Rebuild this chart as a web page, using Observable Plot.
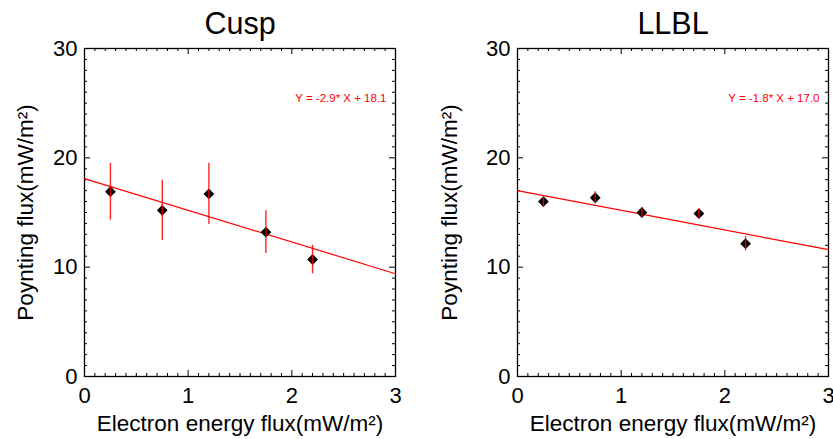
<!DOCTYPE html>
<html><head><meta charset="utf-8">
<script src="https://cdn.jsdelivr.net/npm/d3@7"></script>
<script src="https://cdn.jsdelivr.net/npm/@observablehq/plot@0.6"></script>
<style>
html,body{margin:0;padding:0;background:#fff;}
#wrap{display:flex;width:833px;height:439px;overflow:hidden;}
#wrap svg{display:block;flex:none;}
</style></head><body><div id="wrap"></div>
<script>
const panels = ["Cusp", "LLBL"];
const energy = [0.25, 0.75, 1.2, 1.75, 2.2];
const cuspFlux = [16.9, 15.2, 16.7, 13.2, 10.7];
const cuspErr = [2.6, 2.75, 2.8, 1.95, 1.3];
const llblFlux = [16.0, 16.35, 15.0, 14.9, 12.15];
const llblErr = [0.55, 0.55, 0.45, 0.45, 0.65];
const fitSlope = [-2.9, -1.8];
const fitIntercept = [18.1, 17.0];
const xTicks = [0, 1, 2, 3];
const yTicks = [0, 10, 20, 30];
const xLabel = "Electron energy flux(mW/m\u00B2)";
const yLabel = "Poynting flux(mW/m\u00B2)";

const FONT = "'Liberation Sans', Arial, Helvetica, sans-serif";
const H = 439, MT = 48, MB = 63;
const FH = H - MT - MB;

const diamond = {
  draw(ctx, size) {
    const r = Math.sqrt(size / 2);
    ctx.moveTo(0, -r); ctx.lineTo(r, 0); ctx.lineTo(0, r); ctx.lineTo(-r, 0); ctx.closePath();
  }
};

const xMinor = d3.range(1, 30).map(i => i / 10).filter(v => Math.abs(v - Math.round(v)) > 1e-6);
const xMajor = [1, 2];
const yMinor = d3.range(1, 30).filter(v => v % 10 !== 0);
const yMajor = [10, 20];

function panel(idx, width, ml, mr, ylabelX) {
  const flux = idx === 0 ? cuspFlux : llblFlux;
  const err = idx === 0 ? cuspErr : llblErr;
  const pts = energy.map((e, i) => ({x: e, y: flux[i], lo: flux[i] - err[i], hi: flux[i] + err[i]}));
  const fit = [0, 3].map(x => ({x, y: fitIntercept[idx] + fitSlope[idx] * x}));
  const FW = width - ml - mr;
  const sgn = fitSlope[idx] < 0 ? "-" : "";
  const eq = `Y = ${sgn}${Math.abs(fitSlope[idx]).toFixed(1)}* X + ${fitIntercept[idx].toFixed(1)}`;
  return Plot.plot({
    width, height: H,
    marginTop: MT, marginBottom: MB, marginLeft: ml, marginRight: mr,
    style: {fontFamily: FONT, background: "#fff", color: "#000", overflow: "visible"},
    x: {domain: [0, 3]},
    y: {domain: [0, 30]},
    marks: [
      Plot.tickX(xMinor, {x: d => d, insetTop: FH - 3, stroke: "#000", strokeWidth: 1}),
      Plot.tickX(xMinor, {x: d => d, insetBottom: FH - 3, stroke: "#000", strokeWidth: 1}),
      Plot.tickX(xMajor, {x: d => d, insetTop: FH - 6, stroke: "#000", strokeWidth: 1}),
      Plot.tickX(xMajor, {x: d => d, insetBottom: FH - 6, stroke: "#000", strokeWidth: 1}),
      Plot.tickY(yMinor, {y: d => d, insetRight: FW - 3, stroke: "#000", strokeWidth: 1}),
      Plot.tickY(yMinor, {y: d => d, insetLeft: FW - 3, stroke: "#000", strokeWidth: 1}),
      Plot.tickY(yMajor, {y: d => d, insetRight: FW - 6, stroke: "#000", strokeWidth: 1}),
      Plot.tickY(yMajor, {y: d => d, insetLeft: FW - 6, stroke: "#000", strokeWidth: 1}),
      Plot.frame({stroke: "#000", strokeWidth: 1.3}),
      Plot.axisX({ticks: xTicks, tickSize: 0, tickPadding: 11, fontSize: 22, label: null, tickFormat: d3.format("d")}),
      Plot.axisY({ticks: yTicks, tickSize: 0, tickPadding: 7, fontSize: 22, label: null, tickFormat: d3.format("d")}),
      Plot.line(fit, {x: "x", y: "y", stroke: "#ff0000", strokeWidth: 1.2}),
      Plot.dot(pts, {x: "x", y: "y", symbol: diamond, r: 4.3, fill: "#000", stroke: "none"}),
      Plot.ruleX(pts, {x: "x", y1: "lo", y2: "hi", stroke: "#ff0000", strokeWidth: 1.4, strokeOpacity: 0.85}),
      Plot.text([eq], {text: d => d, frameAnchor: "top-right", dx: -9, dy: 50, lineAnchor: "middle", fill: "#ff0000", fontSize: 11.5, textAnchor: "end"}),
      Plot.text([panels[idx]], {text: d => d, frameAnchor: "top", dy: -24, lineAnchor: "middle", fontSize: 30.5, fill: "#000"}),
      Plot.text([xLabel], {text: d => d, frameAnchor: "bottom", dy: 47, lineAnchor: "middle", fontSize: 22.5, fill: "#000"}),
      Plot.text([yLabel], {text: d => d, frameAnchor: "left", dx: ylabelX - ml, rotate: -90, textAnchor: "middle", lineAnchor: "middle", fontSize: 22.5, fill: "#000"})
    ]
  });
}

const wrap = document.getElementById("wrap");
wrap.appendChild(panel(0, 416, 84, 21, 25));
wrap.appendChild(panel(1, 417, 101, 5, 33));
</script>
</body></html>
